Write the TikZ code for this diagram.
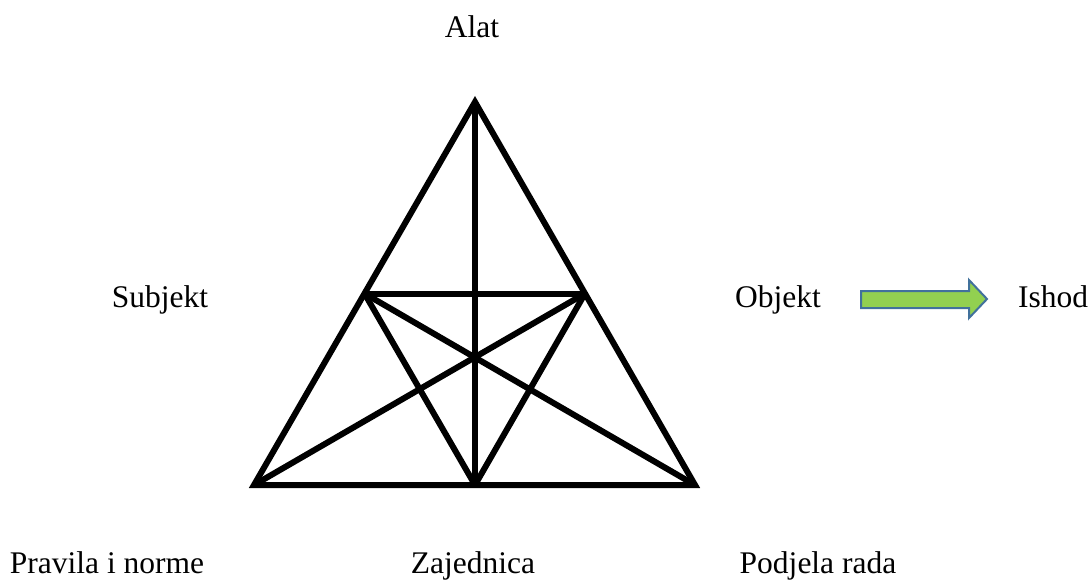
\documentclass[tikz,border=0pt]{standalone}
\usepackage{fontspec}
\setmainfont{Liberation Serif}
\usetikzlibrary{calc}
\definecolor{arrowfill}{HTML}{92D050}
\definecolor{arrowdraw}{HTML}{41719C}
\begin{document}
\begin{tikzpicture}[x=1pt,y=-1pt,
  lbl/.style={anchor=base,inner sep=0pt,font=\fontsize{31.5}{36}\selectfont},
  edge/.style={line width=6pt,black}]
\useasboundingbox (0,0) rectangle (1091,580);
% vertices
\coordinate (A) at (475,102);
\coordinate (BL) at (254,485);
\coordinate (BR) at (695,485);
\coordinate (BM) at (475,485);
\coordinate (ML) at ($(A)!0.5!(BL)$);
\coordinate (MR) at ($(A)!0.5!(BR)$);
% labels
\node[lbl] (alat) at (472,38) {Alat};
\node[lbl] (subjekt) at (160,307) {Subjekt};
\node[lbl] (objekt) at (778,307) {Objekt};
\node[lbl] (ishod) at (1053,307) {Ishod};
\node[lbl] (pravila) at (107,573) {Pravila i norme};
\node[lbl] (zajednica) at (473,573) {Zajednica};
\node[lbl] (podjela) at (818,573) {Podjela rada};
% triangle
\draw[edge] (A) -- (BL) -- (BR) -- cycle;
\draw[edge] (A) -- (BM);
\draw[edge] (ML) -- (MR);
\draw[edge] (ML) -- (BR);
\draw[edge] (MR) -- (BL);
\draw[edge] (ML) -- (BM);
\draw[edge] (MR) -- (BM);
% arrow
\draw[line width=2pt,draw=arrowdraw,fill=arrowfill,line join=miter]
  (861,291) -- (969,291) -- (969,280) -- (987,299) -- (969,318) -- (969,308) -- (861,308) -- cycle;
\end{tikzpicture}
\end{document}
